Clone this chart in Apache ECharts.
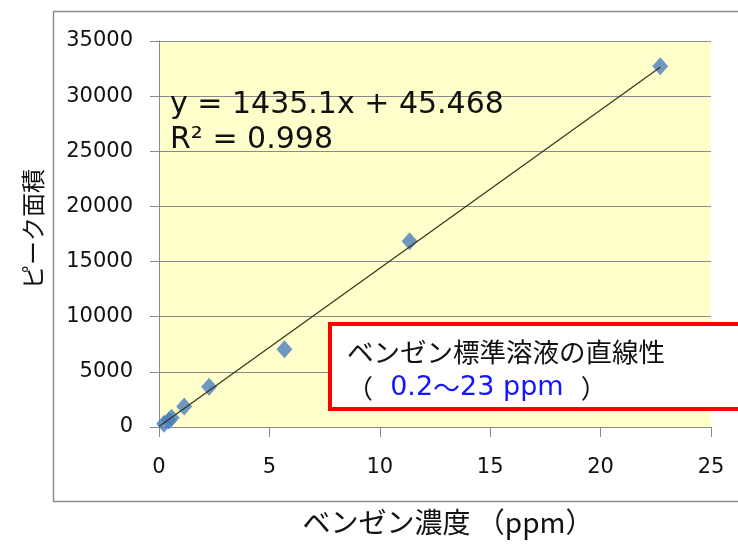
<!DOCTYPE html>
<html>
<head>
<meta charset="utf-8">
<script src="https://cdn.jsdelivr.net/npm/echarts@6/dist/echarts.min.js"></script>
<style>html,body{margin:0;padding:0;background:#fff;}#c{width:738px;height:549px;}</style>
</head>
<body>
<div id="c"></div>
<script>
// Data
var concentrations = [0.23, 0.45, 0.57, 1.14, 2.27, 5.68, 11.35, 22.7];
var peakAreas = [300, 600, 850, 1850, 3650, 7050, 16850, 32700];
var trendX = [0, 22.7];
var trendY = [45, 32622];
var xTicks = [0, 5, 10, 15, 20, 25];
var yTicks = [0, 5000, 10000, 15000, 20000, 25000, 30000, 35000];
var xTitle = 'ベンゼン濃度 （ppm）';
var yTitle = 'ピーク面積';
var equationLines = ['y = 1435.1x + 45.468', 'R² = 0.998'];
var noteLine1 = 'ベンゼン標準溶液の直線性';
var noteRangeA = '0.2';
var noteTilde = '～';
var noteRangeB = '23 ppm';

var points = concentrations.map(function (x, i) { return [x, peakAreas[i]]; });
var trend = trendX.map(function (x, i) { return [x, trendY[i]]; });

var chart = echarts.init(document.getElementById('c'), null, { renderer: 'canvas' });
var numFont = 'DejaVu Sans';
var jpFont = 'Noto Sans CJK JP';

chart.setOption({
  animation: false,
  backgroundColor: '#ffffff',
  grid: {
    left: 159, right: 27, top: 41, bottom: 122,
    show: true, backgroundColor: '#FFFFCC', borderWidth: 0
  },
  xAxis: {
    type: 'value', min: xTicks[0], max: xTicks[xTicks.length - 1], interval: 5,
    axisLine: { show: true, onZero: false, lineStyle: { color: '#8a8a8a', width: 1 } },
    axisTick: { show: true, length: 10, lineStyle: { color: '#8a8a8a' } },
    splitLine: { show: false },
    axisLabel: { margin: 30, color: '#111', fontFamily: numFont, fontSize: 21,
      formatter: function (v) { return String(v); } }
  },
  yAxis: {
    type: 'value', min: yTicks[0], max: yTicks[yTicks.length - 1], interval: 5000,
    axisLine: { show: true, lineStyle: { color: '#8a8a8a', width: 1 } },
    axisTick: { show: true, length: 9, lineStyle: { color: '#8a8a8a' } },
    splitLine: { show: true, lineStyle: { color: '#8a8a8a', width: 1 } },
    axisLabel: { margin: 26, color: '#111', fontFamily: numFont, fontSize: 21,
      formatter: function (v) { return String(v); } }
  },
  series: [
    {
      type: 'scatter', data: points, symbol: 'diamond', symbolSize: [16, 18],
      itemStyle: { color: '#4A7EBB' }, z: 3
    },
    {
      type: 'line', data: trend, symbol: 'none', z: 4,
      lineStyle: { color: '#33331f', width: 1.2 }
    }
  ],
  graphic: [
    { type: 'rect', shape: { x: 53.5, y: 11.5, width: 700, height: 490 },
      style: { fill: 'none', stroke: '#8c8c8c', lineWidth: 1.5 }, z: -1 },
    { type: 'text', left: 170, top: 88, z: 10,
      style: { text: equationLines.join('\n'), font: '30px "DejaVu Sans"', fill: '#111', lineHeight: 35 } },
    { type: 'rect', shape: { x: 330, y: 324, width: 420, height: 85 },
      style: { fill: '#ffffff', stroke: '#ff0000', lineWidth: 4 }, z: 20 },
    { type: 'text', x: 347, y: 352, z: 21,
      style: { text: noteLine1, font: '26.5px "Noto Sans CJK JP"', fill: '#111', verticalAlign: 'middle' } },
    { type: 'text', x: 347, y: 388, z: 21,
      style: {
        text: '{p|（}{b|  ' + noteRangeA + '}{t|' + noteTilde + '}{b|' + noteRangeB + '  }{p|）}',
        verticalAlign: 'middle',
        rich: {
          p: { fontFamily: jpFont, fontSize: 26, fill: '#111' },
          b: { fontFamily: numFont, fontSize: 27, fill: '#1515ff' },
          t: { fontFamily: jpFont, fontSize: 27, fill: '#1515ff' }
        }
      } },
    { type: 'text', x: 448, y: 522, z: 10,
      style: { text: xTitle, font: '28px "Noto Sans CJK JP"', fill: '#111', align: 'center', verticalAlign: 'middle' } },
    { type: 'text', x: 33, y: 229, rotation: Math.PI / 2, z: 10,
      style: { text: yTitle, font: '24px "Noto Sans CJK JP"', fill: '#111', align: 'center', verticalAlign: 'middle' } }
  ]
});
</script>
</body>
</html>
